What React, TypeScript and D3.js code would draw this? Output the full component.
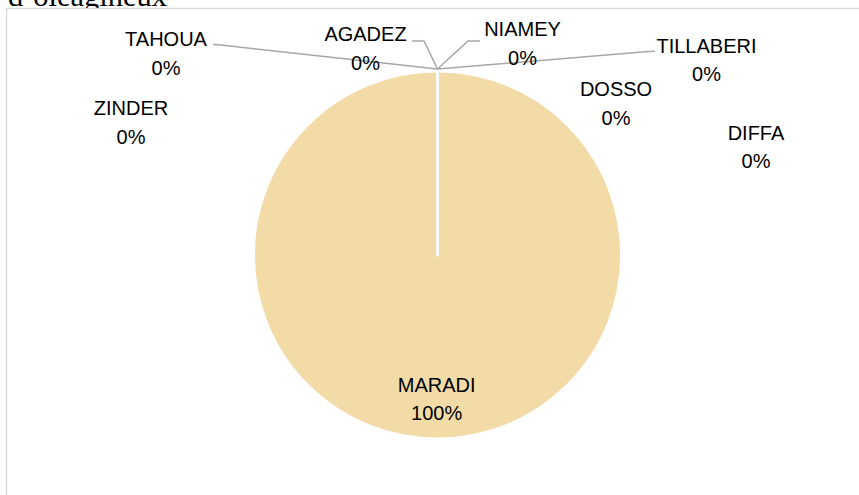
import React from "react";
import * as d3 from "d3";

// ---- data ----
const categories: string[] = ["NIAMEY", "TILLABERI", "DOSSO", "DIFFA", "MARADI", "ZINDER", "TAHOUA", "AGADEZ"];
const values: number[] = [0, 0, 0, 0, 100, 0, 0, 0];
const percentLabels: string[] = ["0%", "0%", "0%", "0%", "100%", "0%", "0%", "0%"];
const headingText = "d\u2019oléagineux";

// ---- layout (positions only) ----
const W = 859;
const H = 495;
const CX = 437.5;
const CY = 255;
const R = 184;
const LINE_GAP = 28.5;

// label centre x and first-line baseline, per category
const labelLayout: Record<string, { x: number; y: number; leader?: [number, number][] }> = {
  NIAMEY: { x: 522.5, y: 36, leader: [[480, 41], [468, 41]] },
  TILLABERI: { x: 706.5, y: 52.5, leader: [[655, 51.3], [645, 51.8]] },
  DOSSO: { x: 616, y: 96 },
  DIFFA: { x: 756, y: 139.5 },
  MARADI: { x: 436.7, y: 391.5 },
  ZINDER: { x: 131, y: 115 },
  TAHOUA: { x: 166, y: 46, leader: [[213, 44.5], [219, 44.8]] },
  AGADEZ: { x: 365.5, y: 41, leader: [[412, 41], [424, 41]] },
};

const FILL = "#F2DBA7";
const LEADER = "#A6A6A6";
const FONT = "'Liberation Sans', Arial, sans-serif";

export default function App() {
  const data = categories.map((c, i) => ({ cat: c, value: values[i], pct: percentLabels[i] }));
  const pie = d3.pie<typeof data[number]>().sort(null).value((d) => d.value).startAngle(0).endAngle(2 * Math.PI);
  const arcs = pie(data);
  const arcGen = d3.arc<d3.PieArcDatum<typeof data[number]>>().innerRadius(0).outerRadius(R);

  // draw non-zero slices first, zero slices on top (their white borders form the radial line)
  const ordered = [...arcs].sort((a, b) => (b.value > 0 ? 1 : 0) - (a.value > 0 ? 1 : 0));

  const line = d3.line();

  return (
    <svg
      width={W}
      height={H}
      viewBox={`0 0 ${W} ${H}`}
      style={{ position: "absolute", left: 0, top: 0, background: "#fff" }}
    >
      <text
        x={8}
        y={6}
        fontFamily="'Liberation Serif', 'Times New Roman', serif"
        fontSize={30}
        textLength={159}
        lengthAdjust="spacingAndGlyphs"
        fill="#000"
      >
        {headingText}
      </text>
      <rect x={6.5} y={8.5} width={1000} height={1000} fill="#fff" stroke="#D9D9D9" strokeWidth={1.4} />

      <g transform={`translate(${CX},${CY})`}>
        {ordered.map((a) => (
          <path
            key={a.data.cat}
            d={arcGen(a) || ""}
            fill={FILL}
            stroke="#fff"
            strokeWidth={2.8}
            strokeLinejoin="round"
          />
        ))}
      </g>

      {arcs.map((a) => {
        const lay = labelLayout[a.data.cat];
        if (!lay || !lay.leader) return null;
        const mid = (a.startAngle + a.endAngle) / 2;
        const tip: [number, number] = [CX + (R + 2) * Math.sin(mid), CY - (R + 2) * Math.cos(mid)];
        const pts: [number, number][] = [...lay.leader, tip];
        return (
          <path key={"l" + a.data.cat} d={line(pts) || ""} fill="none" stroke={LEADER} strokeWidth={1.5} />
        );
      })}

      {arcs.map((a) => {
        const lay = labelLayout[a.data.cat];
        return (
          <text key={"t" + a.data.cat} fontFamily={FONT} fontSize={20} fill="#000" textAnchor="middle">
            <tspan x={lay.x} y={lay.y}>{a.data.cat}</tspan>
            <tspan x={lay.x} y={lay.y + LINE_GAP}>{a.data.pct}</tspan>
          </text>
        );
      })}
    </svg>
  );
}
